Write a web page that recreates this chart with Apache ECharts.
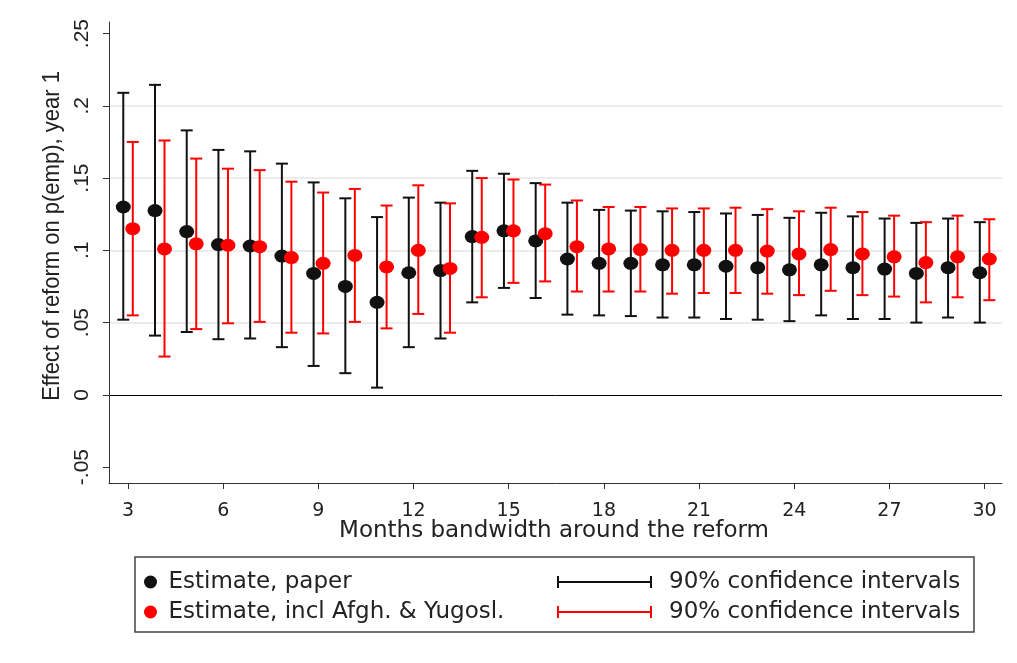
<!DOCTYPE html>
<html>
<head>
<meta charset="utf-8">
<script src="https://cdn.jsdelivr.net/npm/echarts@6/dist/echarts.min.js"></script>
<style>
  html, body { margin: 0; padding: 0; background: #fff; }
  #chart { width: 1017px; height: 663px; }
</style>
</head>
<body>
<div id="chart"></div>
<script>
// bandwidth in months
var months = [3, 4, 5, 6, 7, 8, 9, 10, 11, 12, 13, 14, 15, 16, 17, 18, 19, 20, 21, 22, 23, 24, 25, 26, 27, 28, 29, 30];

// estimate, paper
var paperEst = [0.130, 0.1275, 0.113, 0.104, 0.103, 0.096, 0.084, 0.075, 0.064, 0.0845, 0.086, 0.1095, 0.1135, 0.1065,
    0.094, 0.091, 0.091, 0.090, 0.090, 0.089, 0.088, 0.0865, 0.090, 0.088, 0.087, 0.084, 0.088, 0.0845];
var paperLo = [0.052, 0.041, 0.0435, 0.0385, 0.039, 0.033, 0.020, 0.015, 0.005, 0.033, 0.039, 0.064, 0.074, 0.067,
    0.0555, 0.055, 0.0545, 0.0535, 0.0535, 0.0525, 0.052, 0.051, 0.055, 0.0525, 0.0525, 0.050, 0.0535, 0.050];
var paperHi = [0.209, 0.2145, 0.183, 0.1695, 0.1685, 0.160, 0.147, 0.136, 0.123, 0.1365, 0.133, 0.155, 0.153, 0.1465,
    0.133, 0.128, 0.1275, 0.127, 0.1265, 0.1255, 0.1245, 0.1225, 0.126, 0.1235, 0.122, 0.119, 0.122, 0.1195];

// estimate, incl Afgh. & Yugosl.
var inclEst = [0.115, 0.101, 0.1045, 0.1035, 0.1025, 0.095, 0.091, 0.0965, 0.0885, 0.100, 0.0875, 0.109, 0.1135, 0.1115,
    0.1025, 0.101, 0.1005, 0.100, 0.100, 0.100, 0.0995, 0.0975, 0.1005, 0.0975, 0.0955, 0.0915, 0.0955, 0.094];
var inclLo = [0.055, 0.0265, 0.0455, 0.0495, 0.0505, 0.043, 0.0425, 0.0505, 0.046, 0.056, 0.043, 0.0675, 0.0775, 0.0785,
    0.0715, 0.0715, 0.0715, 0.070, 0.0705, 0.0705, 0.070, 0.069, 0.072, 0.069, 0.068, 0.064, 0.0675, 0.0655];
var inclHi = [0.175, 0.176, 0.1635, 0.1565, 0.1555, 0.1475, 0.140, 0.1425, 0.131, 0.145, 0.1325, 0.150, 0.149, 0.1455,
    0.1345, 0.130, 0.130, 0.129, 0.129, 0.1295, 0.1285, 0.127, 0.1295, 0.1265, 0.124, 0.1195, 0.124, 0.1215];

var xTicks = [3, 6, 9, 12, 15, 18, 21, 24, 27, 30];
var yTicks = [-0.05, 0, 0.05, 0.1, 0.15, 0.2, 0.25];
var yTickLabels = ['-.05', '0', '.05', '.1', '.15', '.2', '.25'];

var BLACK = '#111111';
var RED = '#ff0000';
var shift = 0.15; // the two estimates are drawn side by side

function ciItem(color) {
    return function (params, api) {
        var x = api.value(0);
        var lo = api.coord([x, api.value(1)]);
        var hi = api.coord([x, api.value(2)]);
        var cap = 6;
        var style = { stroke: color, lineWidth: 2 };
        return {
            type: 'group',
            children: [
                { type: 'line', shape: { x1: lo[0], y1: lo[1], x2: hi[0], y2: hi[1] }, style: style },
                { type: 'line', shape: { x1: lo[0] - cap, y1: lo[1], x2: lo[0] + cap, y2: lo[1] }, style: style },
                { type: 'line', shape: { x1: hi[0] - cap, y1: hi[1], x2: hi[0] + cap, y2: hi[1] }, style: style }
            ]
        };
    };
}

var ciIcon = 'path://M0,0h2v12h-2z M0,5h95v2h-95z M93,0h2v12h-2z';
var textFont = 'DejaVu Sans';

var chart = echarts.init(document.getElementById('chart'));
chart.setOption({
    animation: false,
    backgroundColor: '#fff',
    grid: { left: 109, right: 15, top: 22, bottom: 180 },
    xAxis: {
        type: 'value',
        min: 2.4,
        max: 30.55,
        axisLine: { show: true, onZero: false, lineStyle: { color: '#333', width: 1 } },
        axisTick: { show: true, length: 6, customValues: xTicks, lineStyle: { color: '#333' } },
        axisLabel: {
            customValues: xTicks,
            margin: 19,
            color: '#222',
            fontFamily: textFont,
            fontSize: 19
        },
        splitLine: { show: false }
    },
    yAxis: {
        type: 'value',
        min: -0.061,
        max: 0.258,
        axisLine: { show: true, onZero: false, lineStyle: { color: '#333', width: 1 } },
        axisTick: { show: true, length: 6, customValues: yTicks, lineStyle: { color: '#333' } },
        axisLabel: {
            customValues: yTicks,
            rotate: 90,
            margin: 16,
            color: '#222',
            fontFamily: 'Liberation Sans',
            fontSize: 21,
            formatter: function (v) {
                for (var i = 0; i < yTicks.length; i++) {
                    if (Math.abs(yTicks[i] - v) < 1e-9) return yTickLabels[i];
                }
                return '';
            }
        },
        splitLine: { show: false }
    },
    legend: [{
        orient: 'vertical',
        left: 144,
        top: 567,
        padding: 0,
        itemGap: 0,
        itemWidth: 26,
        itemHeight: 13,
        selectedMode: false,
        textStyle: { color: '#222', fontFamily: textFont, fontSize: 23, lineHeight: 30 },
        data: [
            { name: 'Estimate, paper', icon: 'circle' },
            { name: 'Estimate, incl Afgh. & Yugosl.', icon: 'circle' }
        ]
    }, {
        orient: 'vertical',
        left: 557,
        top: 567,
        padding: 0,
        itemGap: 0,
        itemWidth: 95,
        itemHeight: 12,
        selectedMode: false,
        formatter: function () { return '90% confidence intervals'; },
        textStyle: { color: '#222', fontFamily: textFont, fontSize: 23, lineHeight: 30, padding: [0, 0, 0, 12] },
        data: [
            { name: 'CI paper', icon: ciIcon },
            { name: 'CI incl', icon: ciIcon }
        ]
    }],
    graphic: [{
        type: 'text',
        x: 554,
        y: 531,
        style: {
            text: 'Months bandwidth around the reform',
            fill: '#222',
            font: '23px "DejaVu Sans"',
            textAlign: 'center',
            textVerticalAlign: 'middle'
        }
    }, {
        type: 'text',
        x: 52,
        y: 236,
        rotation: Math.PI / 2,
        scaleY: 1.12,
        style: {
            text: 'Effect of reform on p(emp), year 1',
            fill: '#222',
            font: '22px "Liberation Sans"',
            textAlign: 'center',
            textVerticalAlign: 'middle'
        }
    }, {
        type: 'rect',
        shape: { x: 135, y: 557, width: 839, height: 75 },
        style: { fill: 'none', stroke: '#444', lineWidth: 1.5 },
        z: -1
    }],
    series: [{
        // light horizontal grid lines and the black zero line, behind the marks
        name: 'grid',
        type: 'scatter',
        data: [],
        silent: true,
        z: 0,
        markLine: {
            silent: true,
            z: 0,
            symbol: 'none',
            label: { show: false },
            data: yTicks.filter(function (v) { return v > 0.01 && v < 0.24; }).map(function (v) {
                return { yAxis: v, lineStyle: { color: '#e6e6e6', width: 1.5, type: 'solid' } };
            }).concat([{ yAxis: 0, lineStyle: { color: '#000', width: 1, type: 'solid' } }])
        }
    }, {
        name: 'CI paper',
        type: 'custom',
        color: BLACK,
        renderItem: ciItem(BLACK),
        encode: { x: 0, y: [1, 2] },
        data: months.map(function (m, i) { return [m - shift, paperLo[i], paperHi[i]]; }),
        z: 2
    }, {
        name: 'Estimate, paper',
        type: 'scatter',
        symbol: 'circle',
        symbolSize: [15, 13],
        itemStyle: { color: BLACK, opacity: 1 },
        data: months.map(function (m, i) { return [m - shift, paperEst[i]]; }),
        z: 3
    }, {
        name: 'CI incl',
        type: 'custom',
        color: RED,
        renderItem: ciItem(RED),
        encode: { x: 0, y: [1, 2] },
        data: months.map(function (m, i) { return [m + shift, inclLo[i], inclHi[i]]; }),
        z: 4
    }, {
        name: 'Estimate, incl Afgh. & Yugosl.',
        type: 'scatter',
        symbol: 'circle',
        symbolSize: [15, 13],
        itemStyle: { color: RED, opacity: 1 },
        data: months.map(function (m, i) { return [m + shift, inclEst[i]]; }),
        z: 5
    }]
});
</script>
</body>
</html>
